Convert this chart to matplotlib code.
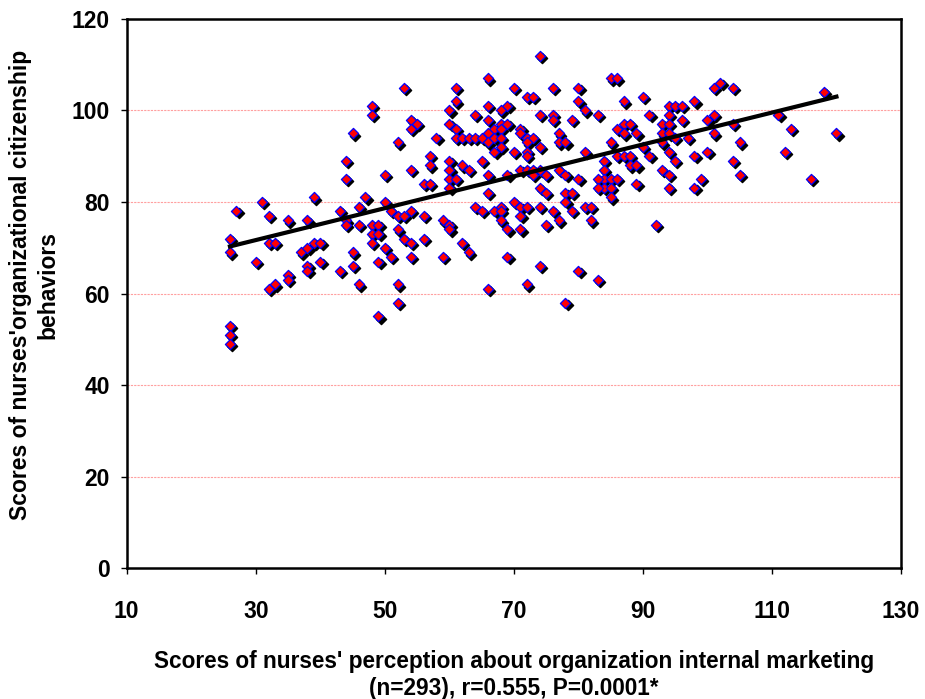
import numpy as np
import matplotlib
matplotlib.use("Agg")
import matplotlib.pyplot as plt
from matplotlib.transforms import offset_copy

plt.rcParams['font.family'] = ['Liberation Sans', 'DejaVu Sans']
plt.rcParams['font.weight'] = 'bold'

# Internal marketing score (x) vs organizational citizenship behaviour score (y)
points = [
    # low-left part
    (53, 105), (48, 101), (48, 99), (54, 98), (55, 97), (54, 96), (45, 95), (52, 93),
    (44, 89), (57, 90), (57, 88), (44, 85), (50, 86), (54, 87), (56, 84), (57, 84),
    (31, 80), (39, 81), (47, 81), (50, 80), (27, 78), (43, 78), (46, 79), (54, 78), (51, 78),
    (32, 77), (35, 76), (38, 76), (44, 76), (44, 75), (46, 75), (48, 75), (49, 75),
    (52, 77), (53, 77), (56, 77), (52, 74), (48, 73), (49, 73), (53, 72), (56, 72),
    (26, 72), (32, 71), (33, 71), (48, 71), (50, 70), (54, 71), (37, 69), (38, 70),
    (39, 71), (40, 71), (26, 69), (45, 69), (51, 68), (30, 67), (40, 67), (49, 67),
    (54, 68), (38, 66), (38, 65), (45, 66), (43, 65), (35, 64), (35, 63), (33, 62),
    (32, 61), (46, 62), (52, 62), (52, 58), (49, 55), (26, 53), (26, 51), (26, 49),
    # middle part
    (74, 112), (66, 107), (61, 105), (70, 105), (72, 103), (73, 103), (76, 105), (80, 105),
    (85, 107), (86, 107), (61, 102), (80, 102), (87, 102), (90, 103), (60, 100), (66, 101),
    (69, 101), (68, 100), (64, 99), (66, 98), (74, 99), (76, 99), (76, 98), (79, 98),
    (81, 100), (83, 99), (60, 97), (68, 97), (69, 97), (67, 96), (68, 96), (58, 94),
    (61, 96), (61, 94), (62, 94), (63, 94), (64, 94), (65, 94), (66, 95), (66, 93),
    (67, 94), (68, 94), (67, 91), (68, 92), (71, 96), (71, 95), (72, 94), (73, 94),
    (72, 93), (74, 92), (77, 95), (77, 93), (78, 93), (70, 91), (72, 91), (72, 90),
    (65, 89), (62, 88), (63, 87), (60, 89), (60, 87), (60, 85), (61, 85), (60, 83),
    (66, 86), (66, 82), (69, 86), (71, 87), (72, 87), (73, 87), (73, 86), (74, 87),
    (75, 86), (77, 87), (78, 86), (80, 85), (74, 83), (75, 82), (78, 82), (79, 82),
    (81, 91), (84, 89), (85, 93), (86, 96), (87, 97), (88, 97), (89, 95), (87, 95),
    (86, 90), (87, 90), (88, 90), (88, 88), (89, 88), (84, 87), (84, 85), (83, 85),
    (85, 85), (86, 85), (84, 83), (85, 83), (83, 83), (85, 81), (89, 84), (64, 79),
    (68, 79), (70, 80), (71, 79), (72, 79), (81, 79), (82, 79), (78, 80),
    (59, 76), (60, 75), (60, 74), (62, 71), (63, 69), (59, 68), (65, 78), (67, 78),
    (68, 78), (68, 76), (69, 74), (71, 77), (71, 74), (74, 79), (75, 75), (76, 78),
    (77, 76), (79, 78), (82, 76), (69, 68), (74, 66), (80, 65), (83, 63), (66, 61),
    (72, 62), (78, 58),
    # right part
    (102, 106), (101, 105), (104, 105), (118, 104), (98, 102), (94, 101), (95, 101), (96, 101),
    (94, 99), (91, 99), (101, 99), (100, 98), (96, 98), (93, 97), (94, 97), (93, 95),
    (94, 95), (101, 95), (104, 97), (111, 99), (113, 96), (120, 95), (95, 94), (97, 94),
    (93, 93), (105, 93), (90, 92), (91, 90), (94, 91), (95, 89), (98, 90), (100, 91),
    (104, 89), (112, 91), (93, 87), (94, 86), (105, 86), (99, 85), (116, 85), (94, 83),
    (98, 83), (92, 75),
]
x = np.array([p[0] for p in points], dtype=float)
y = np.array([p[1] for p in points], dtype=float)

x_ticks = [10, 30, 50, 70, 90, 110, 130]
y_ticks = [0, 20, 40, 60, 80, 100, 120]

fig = plt.figure(figsize=(9.25, 6.99), dpi=100)
ax = fig.add_axes([0.137, 0.187, 0.837, 0.786])

# red dashed gridlines
for v in y_ticks[1:-1]:
    ax.axhline(v, color='#ffa0a0', lw=0.8, ls=(0, (2, 1)), zorder=0)

# black shadow behind every diamond
shadow = offset_copy(ax.transData, fig=fig, x=1.6, y=-1.6, units='points')
ax.scatter(x, y, marker='D', s=27, color='black', transform=shadow, zorder=2)
ax.scatter(x, y, marker='D', s=27, facecolor='red', edgecolor='blue', linewidths=0.9, zorder=3)

# least squares line
m, c = np.polyfit(x, y, 1)
xl = np.array([x.min(), x.max()])
ax.plot(xl, m * xl + c, color='black', lw=3, zorder=4)

ax.set_xlim(10, 130)
ax.set_ylim(0, 120)
ax.set_xticks(x_ticks)
ax.set_yticks(y_ticks)
ax.tick_params(axis='x', length=4, width=1, pad=19, labelsize=16.5)
ax.tick_params(axis='y', length=4, width=1, pad=8, labelsize=16.5)
for sp in ax.spines.values():
    sp.set_linewidth(1.8)

ax.set_xlabel("Scores of nurses' perception about organization internal marketing\n(n=293), r=0.555, P=0.0001*",
              fontsize=16.3, fontweight='bold', linespacing=1.22)
ax.xaxis.set_label_coords(0.5, -0.148)
ax.set_ylabel("Scores of nurses'organizational citizenship\nbehaviors",
              fontsize=16.5, fontweight='bold', linespacing=1.22)
ax.yaxis.set_label_coords(-0.087, 0.515)

fig.savefig("out.png", dpi=100)
